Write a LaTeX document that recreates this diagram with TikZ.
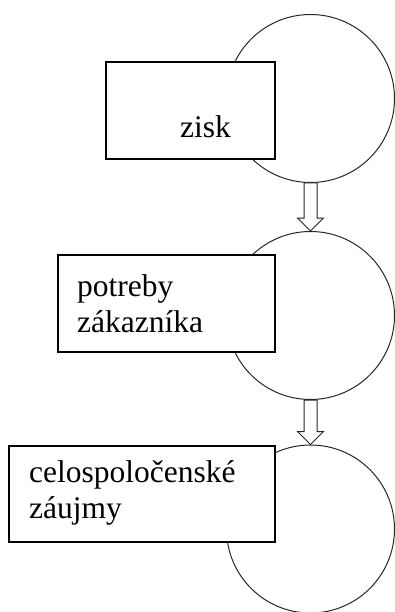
\documentclass[tikz,border=0pt]{standalone}
\usepackage{fontspec}
\setmainfont{Liberation Serif}
\usetikzlibrary{calc}
\tikzset{
  circ/.style={draw=black!85, line width=1pt, circle, minimum size=168pt, inner sep=0pt},
  boxn/.style={draw=black, line width=1.5pt, fill=white, rectangle, inner sep=0pt},
  lbl/.style={inner sep=0pt, anchor=base west, align=left, font=\fontsize{31.5}{36}\selectfont},
  blk/.style={draw=black!85, line width=1pt, fill=white, line join=miter}
}
\newcommand\blockarrow[2]{%
  \draw[blk] let \p1=(#1.south), \p2=(#2.north) in
    (\x1-6.5pt,\y1) -- (\x1-6.5pt,\y2+13pt) -- (\x1-13pt,\y2+13pt) -- (\x1,\y2)
    -- (\x1+13pt,\y2+13pt) -- (\x1+6.5pt,\y2+13pt) -- (\x1+6.5pt,\y1) -- cycle;}
\begin{document}
\begin{tikzpicture}[x=1pt,y=-1pt]
\useasboundingbox (0,0) rectangle (395,612);
\node[circ] (c1) at (310.5,98.5) {};
\node[circ] (c2) at (310.5,315.5) {};
\node[circ] (c3) at (310.5,529) {};
\blockarrow{c1}{c2}
\blockarrow{c2}{c3}
\node[boxn, minimum width=169pt, minimum height=97pt] (b1) at (190.5,110.5) {};
\node[boxn, minimum width=217pt, minimum height=97pt] (b2) at (166.5,303.5) {};
\node[boxn, minimum width=266pt, minimum height=96pt] (b3) at (142,494) {};
\node[lbl] (t1) at (180,138) {zisk};
\node[lbl] (t2) at (77,332) {potreby\\zákazníka};
\node[lbl] (t3) at (29,518) {celospoločenské\\záujmy};
\end{tikzpicture}
\end{document}
